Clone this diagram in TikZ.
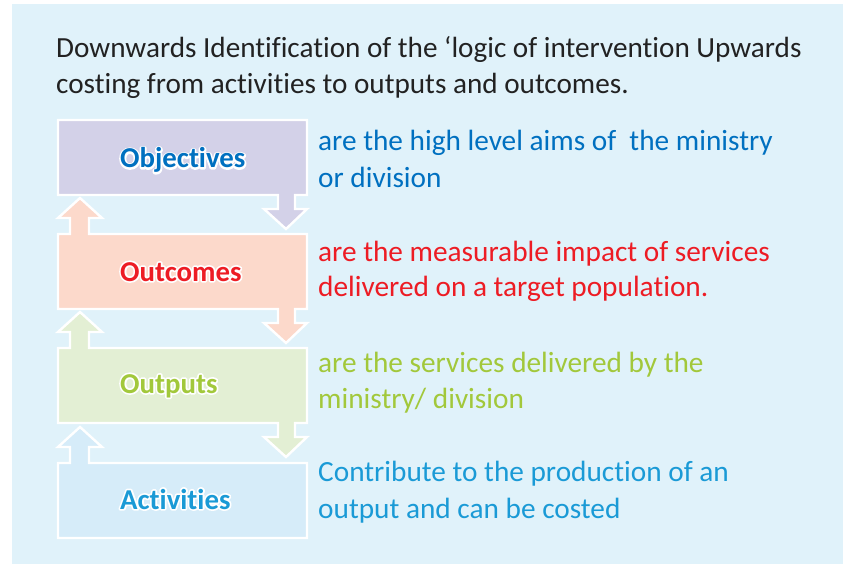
\documentclass[tikz,border=0pt]{standalone}
\usepackage{fontspec}
\setmainfont{Carlito}[Ligatures=NoCommon]
\definecolor{panel}{HTML}{E0F2FA}
\definecolor{titlegray}{HTML}{222222}
\definecolor{objfill}{HTML}{D3D1E8}
\definecolor{objtext}{HTML}{0070C0}
\definecolor{outcfill}{HTML}{FCD9CB}
\definecolor{outctext}{HTML}{ED1C24}
\definecolor{outpfill}{HTML}{E3EFD4}
\definecolor{outptext}{HTML}{A2C83B}
\definecolor{actfill}{HTML}{D6ECF9}
\definecolor{acttext}{HTML}{1A9AD6}
% bold label with a white outline: a white stroked copy under the coloured text
\newcommand\halotext[2]{%
  \rlap{\color{white}\special{pdf:literal direct 1 1 1 RG 2 Tr 3.4 w 1 j}#2\special{pdf:literal direct 0 Tr}}%
  {\color{#1}#2}}
\begin{document}
\begin{tikzpicture}[x=1pt,y=-1pt,
  stage/.style={draw=white,line width=2.4pt,line join=miter},
  titleline/.style={anchor=base west,inner sep=0pt,text=titlegray,font=\fontsize{29.2}{36}\selectfont},
  descline/.style={anchor=base west,inner sep=0pt,font=\fontsize{29.3}{36}\selectfont},
  stagelabel/.style={anchor=base west,inner sep=0pt,font=\bfseries\fontsize{28.8}{36}\selectfont}]
\useasboundingbox (0,0) rectangle (843,564);
\fill[panel] (12,4) rectangle (843,564);

% heading
\node[titleline] (title1) at (56,57.5) {Downwards Identification of the ‘logic of intervention Upwards};
\node[titleline] (title2) at (56,93.5) {costing from activities to outputs and outcomes.};

% stage boxes, each with its down arrow (lower right) and up arrow (upper left)
\path[stage,fill=objfill] (58,120) -- (307,120) -- (307,195) -- (295,195) -- (295,209) -- (307,209)
  -- (286,229) -- (264,209) -- (278,209) -- (278,195) -- (58,195) -- cycle;
\path[stage,fill=outcfill] (58,234) -- (70,234) -- (70,218) -- (58,218) -- (80,198) -- (102,218)
  -- (89,218) -- (89,234) -- (307,234) -- (307,309) -- (295,309) -- (295,323) -- (307,323)
  -- (286,343) -- (264,323) -- (278,323) -- (278,309) -- (58,309) -- cycle;
\path[stage,fill=outpfill] (58,348) -- (70,348) -- (70,332) -- (58,332) -- (80,312) -- (102,332)
  -- (89,332) -- (89,348) -- (307,348) -- (307,423) -- (295,423) -- (295,437) -- (307,437)
  -- (286,457) -- (264,437) -- (278,437) -- (278,423) -- (58,423) -- cycle;
\path[stage,fill=actfill] (58,463) -- (70,463) -- (70,447) -- (58,447) -- (80,427) -- (102,447)
  -- (89,447) -- (89,463) -- (307,463) -- (307,538) -- (58,538) -- cycle;

% stage names
\node[stagelabel] (objectives) at (120,168) {\halotext{objtext}{Objectives}};
\node[stagelabel] (outcomes) at (120,281) {\halotext{outctext}{Outcomes}};
\node[stagelabel] (outputs) at (120,393) {\halotext{outptext}{Outputs}};
\node[stagelabel] (activities) at (120,509) {\halotext{acttext}{Activities}};

% descriptions
\node[descline,text=objtext] (objdesc1) at (318,151) {are the high level aims of \ the ministry};
\node[descline,text=objtext] (objdesc2) at (318,188) {or division};
\node[descline,text=outctext] (outcdesc1) at (318,261) {are the measurable impact of services};
\node[descline,text=outctext] (outcdesc2) at (318,296) {delivered on a target population.};
\node[descline,text=outptext] (outpdesc1) at (318,372) {are the services delivered by the};
\node[descline,text=outptext] (outpdesc2) at (318,408) {ministry/ division};
\node[descline,text=acttext] (actdesc1) at (318,481) {Contribute to the production of an};
\node[descline,text=acttext] (actdesc2) at (318,518) {output and can be costed};
\end{tikzpicture}
\end{document}
